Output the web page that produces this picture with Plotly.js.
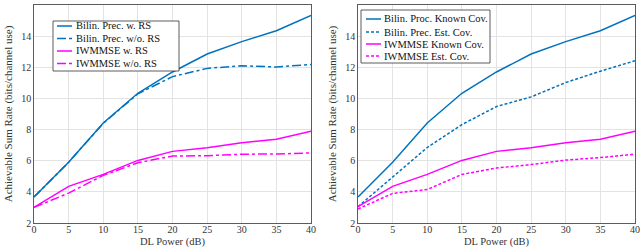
<!DOCTYPE html>
<html><head><meta charset="utf-8">
<script src="https://cdn.plot.ly/plotly-3.0.1.min.js"></script>
<style>html,body{margin:0;padding:0;background:#fff}#c{width:640px;height:248px}</style>
</head><body><div id="c"></div>
<script>
const power = [0, 5, 10, 15, 20, 25, 30, 35, 40];
const bilinRS   = [3.67, 5.9, 8.42, 10.33, 11.7, 12.85, 13.65, 14.35, 15.33];
const bilinNoRS = [3.67, 5.9, 8.4, 10.3, 11.4, 11.93, 12.1, 12.02, 12.18];
const iwRS      = [3.0, 4.35, 5.12, 6.02, 6.6, 6.83, 7.15, 7.38, 7.9];
const iwNoRS    = [3.0, 3.92, 5.06, 5.87, 6.3, 6.32, 6.42, 6.43, 6.5];
const bilinKnown = bilinRS;
const bilinEst   = [3.05, 4.95, 6.85, 8.32, 9.48, 10.1, 11.02, 11.75, 12.42];
const iwKnown    = [3.05, 4.35, 5.12, 6.02, 6.6, 6.83, 7.15, 7.38, 7.9];
const iwEst      = [2.9, 3.9, 4.15, 5.12, 5.53, 5.75, 6.04, 6.2, 6.42];
const namesL = ["Bilin. Prec. w. RS", "Bilin. Prec. w/o. RS", "IWMMSE w. RS", "IWMMSE w/o. RS"];
const namesR = ["Bilin. Proc. Known Cov.", "Bilin. Prec. Est. Cov.", "IWMMSE Known Cov.", "IWMMSE Est. Cov."];
const tickVals = [2, 4, 6, 8, 10, 12, 14, 16];
const xTitle = "DL Power (dB)";
const yTitle = "Achievable Sum Rate (bits/channel use)";

const BLUE = "#0072BD", MAG = "#FF00FF";
const colors = [BLUE, BLUE, MAG, MAG];
const dashL = ["solid", "dashdot", "solid", "dashdot"];
const dashR = ["solid", "3px,2px", "solid", "3px,2px"];
const seriesL = [bilinRS, bilinNoRS, iwRS, iwNoRS];
const seriesR = [bilinKnown, bilinEst, iwKnown, iwEst];

const data = [];
seriesL.forEach((s, i) => data.push({x: power, y: s, name: namesL[i], type: "scatter", mode: "lines",
  line: {color: colors[i], width: 1.5, dash: dashL[i]}, xaxis: "x", yaxis: "y", showlegend: false}));
seriesR.forEach((s, i) => data.push({x: power, y: s, name: namesR[i], type: "scatter", mode: "lines",
  line: {color: colors[i], width: 1.5, dash: dashR[i]}, xaxis: "x2", yaxis: "y2", showlegend: false}));

const FAM = "Liberation Serif, Times New Roman, serif";
const tickFont = {family: FAM, size: 10, color: "#333"};
const titleFont = {family: FAM, size: 11, color: "#333"};
function xax(dom, anchor) {
  return {domain: dom, anchor: anchor, range: [0, 40], dtick: 5, showgrid: true, gridcolor: "#e3e3e3",
    linecolor: "#333", linewidth: 0.8, mirror: true, ticks: "", ticklabelstandoff: -3,
    zeroline: false, tickfont: tickFont, automargin: false};
}
function yax(anchor) {
  return {domain: [0, 1], anchor: anchor, range: [2, 16], tickvals: tickVals, showgrid: true, gridcolor: "#e3e3e3",
    linecolor: "#333", linewidth: 0.8, mirror: true, ticks: "",
    zeroline: false, tickfont: tickFont, automargin: false,
    title: {text: yTitle, font: titleFont, standoff: 6}};
}

// Custom legend boxes (pixel -> paper coords)
const W = 640, TOP = 5, BOT = 223;
const px = v => v / W, py = v => (BOT - v) / (BOT - TOP);
const shapes = [], annotations = [];
function legendBox(x0, x1, y0, y1, rows, lx0, lx1, tx, names, dashes) {
  shapes.push({type: "rect", xref: "paper", yref: "paper", x0: px(x0), x1: px(x1), y0: py(y1), y1: py(y0),
    line: {color: "#333", width: 0.8}, fillcolor: "#fff", layer: "above"});
  names.forEach((n, i) => {
    shapes.push({type: "line", xref: "paper", yref: "paper", x0: px(lx0), x1: px(lx1), y0: py(rows[i]), y1: py(rows[i]),
      line: {color: colors[i], width: 1.5, dash: dashes[i]}, layer: "above"});
    annotations.push({xref: "paper", yref: "paper", x: px(tx), y: py(rows[i]), xanchor: "left", yanchor: "middle",
      text: n, showarrow: false, font: {family: FAM, size: 10.5, color: "#111"}});
  });
}
legendBox(53, 179, 21, 71, [26, 38.5, 51, 63.5], 57, 72, 74, namesL, dashL);
legendBox(361, 490, 10, 63, [19, 32, 44, 56], 366, 381, 382, namesR, dashR);
// x-axis titles
[[34, 311], [358, 635]].forEach(([a, b]) => annotations.push({xref: "paper", yref: "paper",
  x: px((a + b) / 2), y: py(249), xanchor: "center", yanchor: "bottom", text: xTitle, showarrow: false,
  borderpad: 0, font: {family: FAM, size: 10.5, color: "#333"}}));

const layout = {
  width: 640, height: 248, margin: {l: 0, r: 0, t: TOP, b: 248 - BOT},
  paper_bgcolor: "#fff", plot_bgcolor: "#fff", font: titleFont,
  xaxis: xax([34 / W, 311 / W], "y"), yaxis: yax("x"),
  xaxis2: xax([358 / W, 635 / W], "y2"), yaxis2: yax("x2"),
  shapes: shapes, annotations: annotations, showlegend: false
};
Plotly.newPlot("c", data, layout, {staticPlot: true});
</script></body></html>
